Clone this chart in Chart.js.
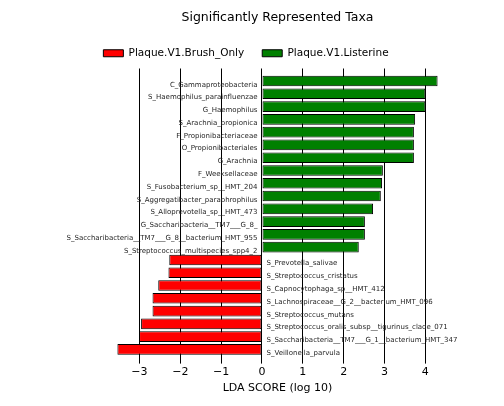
<!DOCTYPE html>
<html>
<head>
<meta charset="utf-8">
<script src="https://cdn.jsdelivr.net/npm/chart.js@4.4.1/dist/chart.umd.min.js"></script>
<style>
  html, body { margin: 0; padding: 0; background: #fff; }
  #wrap { width: 504px; height: 406px; }
</style>
</head>
<body>
<div id="wrap"><canvas id="lda" width="504" height="406"></canvas></div>
<script>
// Taxa enriched in each group, top to bottom as in the plot
const listerineTaxa = [
    'C_Gammaproteobacteria',
    'S_Haemophilus_parainfluenzae',
    'G_Haemophilus',
    'S_Arachnia_propionica',
    'F_Propionibacteriaceae',
    'O_Propionibacteriales',
    'G_Arachnia',
    'F_Weeksellaceae',
    'S_Fusobacterium_sp__HMT_204',
    'S_Aggregatibacter_paraphrophilus',
    'S_Alloprevotella_sp__HMT_473',
    'G_Saccharibacteria__TM7___G_8_',
    'S_Saccharibacteria__TM7___G_8__bacterium_HMT_955',
    'S_Streptococcus_multispecies_spp4_2'
];
const listerineScores = [4.30, 4.00, 4.00, 3.75, 3.72, 3.72, 3.72, 2.96, 2.94, 2.91, 2.72, 2.52, 2.52, 2.37];

const brushTaxa = [
    'S_Prevotella_salivae',
    'S_Streptococcus_cristatus',
    'S_Capnocytophaga_sp__HMT_412',
    'S_Lachnospiraceae__G_2__bacterium_HMT_096',
    'S_Streptococcus_mutans',
    'S_Streptococcus_oralis_subsp__tigurinus_clade_071',
    'S_Saccharibacteria__TM7___G_1__bacterium_HMT_347',
    'S_Veillonella_parvula'
];
const brushScores = [-2.27, -2.29, -2.54, -2.68, -2.68, -2.96, -3.01, -3.54];

const groupNames = ['Plaque.V1.Brush_Only', 'Plaque.V1.Listerine'];
const xTicks = [-3, -2, -1, 0, 1, 2, 3, 4];

// Row index: listerine rows first, then brush rows
const listerinePoints = listerineScores.map((v, i) => ({ x: v, y: i }));
const brushPoints = brushScores.map((v, i) => ({ x: v, y: listerineTaxa.length + i }));

// Write the taxon name next to each bar
const taxaLabels = {
    id: 'taxaLabels',
    afterDatasetsDraw(chart) {
        const ctx = chart.ctx;
        const xs = chart.scales.x;
        const ys = chart.scales.y;
        const zero = xs.getPixelForValue(0);
        ctx.save();
        ctx.font = '7px "DejaVu Sans"';
        ctx.fillStyle = '#262626';
        ctx.textBaseline = 'alphabetic';
        ctx.textAlign = 'right';
        listerineTaxa.forEach((name, i) => {
            ctx.fillText(name, zero - 4.5, ys.getPixelForValue(i) + 5.5);
        });
        ctx.textAlign = 'left';
        brushTaxa.forEach((name, i) => {
            ctx.fillText(name, zero + 4.5, ys.getPixelForValue(listerineTaxa.length + i) + 5.5);
        });
        ctx.restore();
    }
};

const ctx = document.getElementById('lda').getContext('2d');
new Chart(ctx, {
    type: 'bar',
    data: {
        datasets: [
            {
                label: groupNames[0],
                data: brushPoints,
                backgroundColor: '#ff0000',
                borderColor: '#000000',
                borderWidth: 1,
                borderSkipped: false,
                grouped: false
            },
            {
                label: groupNames[1],
                data: listerinePoints,
                backgroundColor: '#008000',
                borderColor: '#000000',
                borderWidth: 1,
                borderSkipped: false,
                grouped: false
            }
        ]
    },
    options: {
        indexAxis: 'y',
        responsive: false,
        animation: false,
        barPercentage: 0.83,
        categoryPercentage: 1,
        layout: { padding: { left: 0, right: 12, top: 0, bottom: 11 } },
        scales: {
            x: {
                type: 'linear',
                min: -3.55,
                max: 4.31,
                z: 1,
                afterBuildTicks(scale) {
                    scale.ticks = xTicks.map(v => ({ value: v }));
                },
                ticks: {
                    includeBounds: false,
                    color: '#000',
                    padding: 2,
                    font: { family: 'DejaVu Sans', size: 11 },
                    callback: v => (v < 0 ? '\u2212' + Math.abs(v) : String(v))
                },
                grid: { color: '#000', lineWidth: 1, tickLength: 4 },
                border: { display: false },
                title: {
                    display: true,
                    text: 'LDA SCORE (log 10)',
                    color: '#000',
                    padding: { top: 1, bottom: 0 },
                    font: { family: 'DejaVu Sans', size: 11 }
                }
            },
            y: {
                type: 'linear',
                reverse: true,
                offset: false,
                min: -0.98,
                max: -0.98 + 292 / 12.82,
                ticks: { display: false },
                grid: { display: false, offset: false },
                border: { display: false },
                afterFit(scale) { scale.width = 117; }
            },
            y2: {
                type: 'linear',
                position: 'right',
                offset: false,
                ticks: { display: false },
                grid: { display: false },
                border: { display: false },
                afterFit(scale) { scale.width = 504 - 12 - 438; }
            }
        },
        plugins: {
            title: {
                display: true,
                fullSize: false,
                text: 'Significantly Represented Taxa',
                color: '#000',
                font: { family: 'DejaVu Sans', size: 12.5, weight: 'normal' },
                padding: { top: 10, bottom: 5 }
            },
            legend: {
                display: true,
                position: 'top',
                labels: {
                    boxWidth: 20,
                    boxHeight: 7,
                    color: '#000',
                    padding: 18,
                    font: { family: 'DejaVu Sans', size: 10.5 }
                }
            },
            tooltip: { enabled: false }
        }
    },
    plugins: [taxaLabels]
});
</script>
</body>
</html>
